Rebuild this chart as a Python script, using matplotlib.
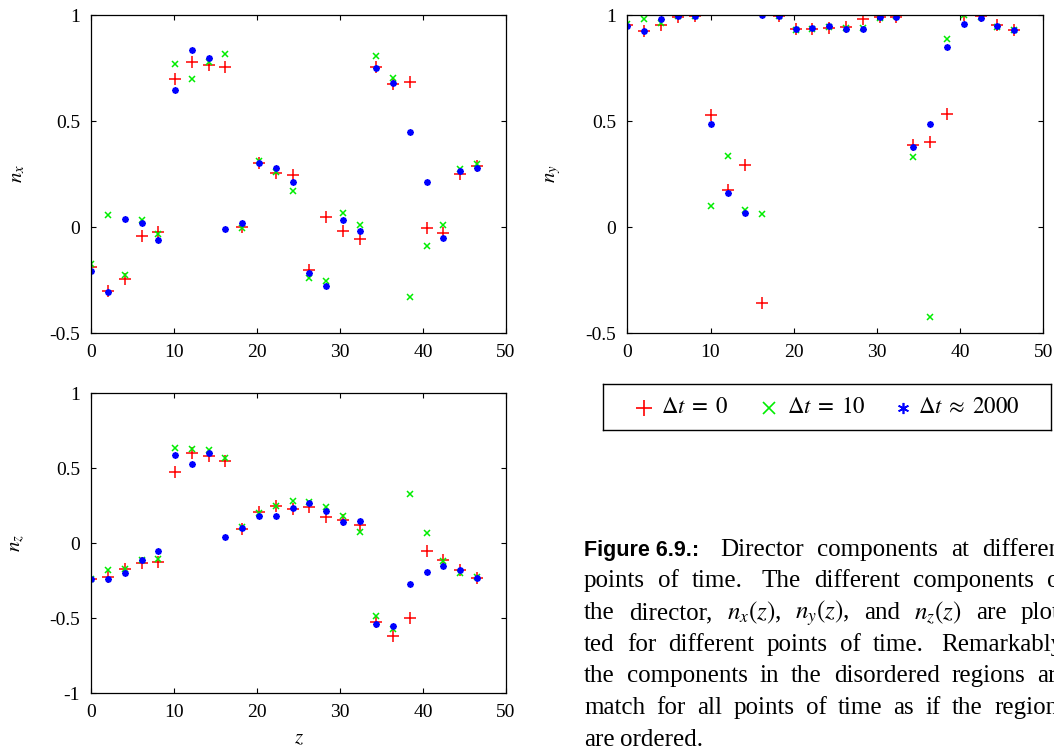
import matplotlib
matplotlib.use("Agg")
import matplotlib.pyplot as plt

plt.rcParams['font.family'] = ['Liberation Serif', 'DejaVu Serif']
plt.rcParams['mathtext.fontset'] = 'stix'

# layer positions along z
z = [0.0, 2.02, 4.04, 6.07, 8.09, 10.11, 12.13, 14.15, 16.17, 18.2, 20.22, 22.24,
     24.26, 26.28, 28.3, 30.33, 32.35, 34.37, 36.39, 38.41, 40.43, 42.46, 44.48, 46.5]

# director component n_x
nx_t0 = [-0.19, -0.30, -0.247, -0.044, -0.025, 0.70, 0.78, 0.764, 0.755, 0.0, 0.30, 0.253,
         0.247, -0.203, 0.049, -0.019, -0.055, 0.756, 0.676, 0.684, -0.003, -0.027, 0.252, 0.288]
nx_t10 = [-0.175, 0.055, -0.228, 0.033, -0.035, 0.767, 0.698, 0.777, 0.818, -0.003, 0.311, 0.258,
          0.168, -0.242, -0.255, 0.064, 0.008, 0.808, 0.703, -0.33, -0.091, 0.009, 0.275, 0.296]
nx_t2000 = [-0.209, -0.307, 0.038, 0.017, -0.061, 0.645, 0.833, 0.796, -0.009, 0.017, 0.302, 0.277,
            0.211, -0.219, -0.28, 0.031, -0.019, 0.752, 0.681, 0.447, 0.214, -0.05, 0.264, 0.278]

# director component n_y
ny_t0 = [0.953, 0.925, 0.953, 0.992, 0.997, 0.527, 0.175, 0.291, -0.36, 0.997, 0.932, 0.935,
         0.939, 0.945, 0.981, 0.992, 0.992, 0.387, 0.403, 0.531, 1.0, 0.997, 0.951, 0.928]
ny_t10 = [0.958, 0.981, 0.964, 0.995, 0.997, 0.097, 0.335, 0.079, 0.061, 0.997, 0.929, 0.932,
          0.942, 0.937, 0.937, 0.984, 0.997, 0.329, -0.425, 0.885, 0.998, 0.992, 0.942, 0.928]
ny_t2000 = [0.95, 0.925, 0.98, 0.997, 0.997, 0.487, 0.159, 0.068, 0.998, 0.995, 0.934, 0.94,
            0.947, 0.935, 0.935, 0.992, 0.992, 0.377, 0.484, 0.851, 0.958, 0.987, 0.948, 0.929]

# director component n_z
nz_t0 = [-0.238, -0.227, -0.171, -0.131, -0.122, 0.476, 0.60, 0.58, 0.549, 0.096, 0.211, 0.247,
         0.231, 0.244, 0.176, 0.156, 0.122, -0.527, -0.618, -0.50, -0.049, -0.111, -0.178, -0.231]
nz_t10 = [-0.238, -0.176, -0.169, -0.113, -0.107, 0.633, 0.631, 0.622, 0.571, 0.111, 0.202, 0.249,
          0.284, 0.273, 0.24, 0.182, 0.073, -0.487, -0.573, 0.329, 0.067, -0.116, -0.20, -0.222]
nz_t2000 = [-0.238, -0.238, -0.196, -0.113, -0.051, 0.587, 0.527, 0.602, 0.042, 0.102, 0.182, 0.184,
            0.238, 0.271, 0.213, 0.14, 0.147, -0.54, -0.549, -0.271, -0.193, -0.153, -0.18, -0.231]

series_labels = [r'$\Delta t\;=\;0$', r'$\Delta t\;=\;10$', r'$\Delta t\;\approx\;2000$']
x_ticks = [0, 10, 20, 30, 40, 50]
x_tick_labels = ['0', '10', '20', '30', '40', '50']
y_ticks_xy = [-0.5, 0, 0.5, 1]
y_tick_labels_xy = ['-0.5', '0', '0.5', '1']
y_ticks_z = [-1, -0.5, 0, 0.5, 1]
y_tick_labels_z = ['-1', '-0.5', '0', '0.5', '1']

RED = (1.0, 0.0, 0.0)
GREEN = (0.0, 0.93, 0.0)
BLUE = (0.0, 0.0, 1.0)
ASTERISK = (8, 2, 0)

W, H = 1054, 749
fig = plt.figure(figsize=(W / 100, H / 100), dpi=100)


def px_axes(left, top, right, bottom):
    return fig.add_axes([left / W, 1 - bottom / H, (right - left) / W, (bottom - top) / H])


def draw_panel(ax, a, b, c, yticks, yticklabels, ylim, ylabel):
    ax.plot(z, a, ls='none', marker='+', ms=8.5, mew=1.1, color=RED)
    ax.plot(z, b, ls='none', marker='x', ms=3.8, mew=1.1, color=GREEN)
    ax.plot(z, c, ls='none', marker=ASTERISK, ms=4.6, mew=1.3, color=BLUE)
    ax.set_xlim(0, 50)
    ax.set_ylim(*ylim)
    ax.set_xticks(x_ticks)
    ax.set_xticklabels(x_tick_labels)
    ax.set_yticks(yticks)
    ax.set_yticklabels(yticklabels)
    ax.tick_params(direction='in', length=3.8, width=0.8, top=True, right=True,
                   labelsize=14, colors='black')
    ax.tick_params(axis='x', pad=8)
    ax.tick_params(axis='y', pad=8)
    for s in ax.spines.values():
        s.set_linewidth(0.9)
    ax.set_ylabel(ylabel, fontsize=15, rotation=90)
    ax.yaxis.set_label_coords(-0.155, 0.5)


ax1 = px_axes(91.3, 15, 506, 333)
draw_panel(ax1, nx_t0, nx_t10, nx_t2000, y_ticks_xy, y_tick_labels_xy, (-0.5, 1), r'$n_x$')

ax2 = px_axes(627.3, 15, 1043.3, 333)
draw_panel(ax2, ny_t0, ny_t10, ny_t2000, y_ticks_xy, y_tick_labels_xy, (-0.5, 1), r'$n_y$')

ax3 = px_axes(91.3, 393.3, 506, 693.3)
draw_panel(ax3, nz_t0, nz_t10, nz_t2000, y_ticks_z, y_tick_labels_z, (-1, 1), r'$n_z$')
ax3.set_xlabel(r'$z$', fontsize=15)
ax3.xaxis.set_label_coords(0.5, -0.12)

# legend box below the n_y panel
lax = px_axes(603.3, 384.3, 1051, 430)
lax.set_xlim(0, 447.7)
lax.set_ylim(0, 45.7)
lax.set_xticks([])
lax.set_yticks([])
for s in lax.spines.values():
    s.set_linewidth(1.0)
legend_items = [
    (41, 58, dict(marker='+', ms=12, mew=1.2, color=RED)),
    (166, 184, dict(marker='x', ms=8, mew=1.2, color=GREEN)),
    (300, 315, dict(marker=(6, 2, 0), ms=8, mew=1.2, color=BLUE)),
]
for (mx, tx, style), lab in zip(legend_items, series_labels):
    lax.plot([mx], [22.5], ls='none', **style)
    lax.text(tx, 17, lab, fontsize=16.5, va='baseline', ha='left')

# caption, justified to a fixed right margin
cap_left, cap_right = 584.0, 1068.0
baseline0, line_step = 555.7, 31.67
cap_size = 18
caption_lines = [
    ['Figure 6.9.:', 'Director', 'components', 'at', 'different'],
    ['points', 'of', 'time.', 'The', 'different', 'components', 'of'],
    ['the', 'director,', r'$n_x(z)$,', r'$n_y(z)$,', 'and', r'$n_z(z)$', 'are', 'plot-'],
    ['ted', 'for', 'different', 'points', 'of', 'time.', 'Remarkably,'],
    ['the', 'components', 'in', 'the', 'disordered', 'regions', 'are'],
    ['match', 'for', 'all', 'points', 'of', 'time', 'as', 'if', 'the', 'regions'],
    ['are', 'ordered.'],
]

renderer = fig.canvas.get_renderer()
for li, words in enumerate(caption_lines):
    yb = 1 - (baseline0 + li * line_step) / H
    texts = []
    for w in words:
        if w.startswith('Figure'):
            t = fig.text(0, yb, w, fontsize=15.5, fontweight='bold',
                         family=['Liberation Sans', 'DejaVu Sans'], va='baseline', ha='left')
        else:
            t = fig.text(0, yb, w, fontsize=cap_size, va='baseline', ha='left')
        texts.append(t)
    widths = [t.get_window_extent(renderer).width for t in texts]
    weights = []
    for w in words[:-1]:
        weights.append(1.6 if w.endswith(':') else (1.4 if w.endswith('.') else 1.0))
    if li == len(caption_lines) - 1:
        unit = 5.0
    else:
        unit = (cap_right - cap_left - sum(widths)) / sum(weights)
    x = cap_left
    for i, t in enumerate(texts):
        t.set_x(x / W)
        x += widths[i]
        if i < len(weights):
            x += unit * weights[i]

fig.savefig('out.png', dpi=100)
